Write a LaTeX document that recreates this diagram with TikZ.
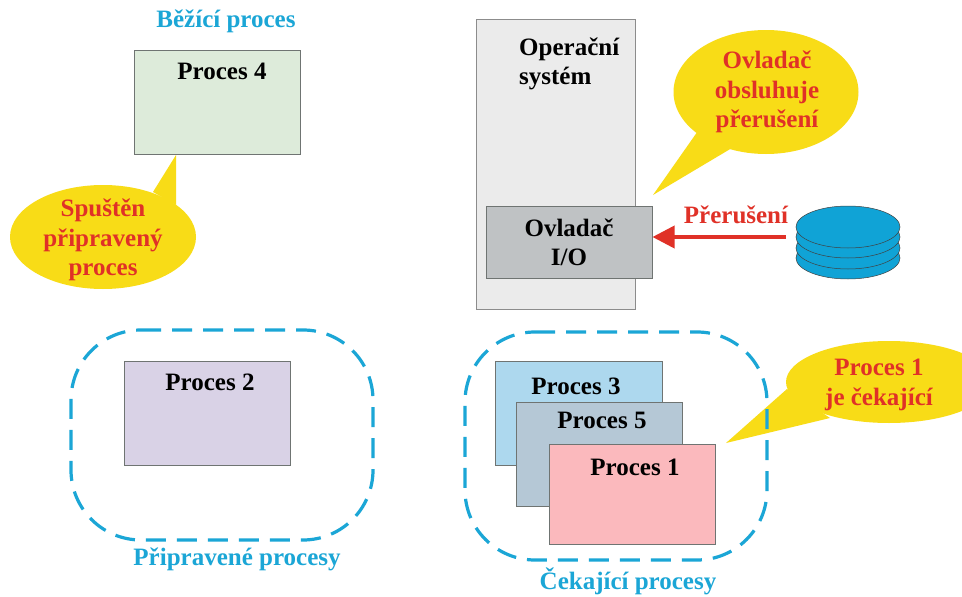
\documentclass[tikz,border=0pt]{standalone}
\usepackage{fontspec}
\setmainfont{Liberation Serif}
\usetikzlibrary{arrows.meta}
\definecolor{capblue}{HTML}{1BA6D6}
\definecolor{dashblue}{HTML}{1BA6D6}
\definecolor{bubble}{HTML}{F8DC17}
\definecolor{redtxt}{HTML}{E03127}
\definecolor{diskblue}{HTML}{10A3D6}
\definecolor{edgegray}{HTML}{6F7472}
\definecolor{iogray}{HTML}{BFC2C4}
\tikzset{
  x=1pt,y=-1pt,
  lab/.style={font=\fontsize{25}{29.3}\selectfont\bfseries,align=center,inner sep=0pt},
  blk/.style={lab,text=black},
  rd/.style={lab,text=redtxt},
  captxt/.style={lab,text=capblue},
  pbox/.style={draw=edgegray,line width=0.7pt},
  bub/.style={fill=bubble,draw=none},
  grp/.style={draw=dashblue,line width=3.2pt,dash pattern=on 20pt off 11pt},
  diskp/.style={fill=diskblue,draw=black!75,line width=0.5pt},
}
\begin{document}
\begin{tikzpicture}
\useasboundingbox[fill=white] (0,0) rectangle (962,597);
% operating system
\draw[pbox,fill=black!8,draw=black!45] (476,19) rectangle (635,309);
\node[blk,align=left,anchor=west] (os) at (519,64) {Operační\\systém};
\draw[pbox,fill=iogray] (486,206) rectangle (652,278);
\coordinate (ioEdge) at (652.5,237);
\node[blk] (io) at (569,242) {Ovladač\\I/O};
% running
\node[captxt] (run) at (226,21) {Běžící proces};
\draw[pbox,fill={rgb,255:red,221;green,235;blue,218}] (134,50) rectangle (300,154);
\node[blk] (p4) at (222,71) {Proces 4};
% callout running
\path[bub] (103,237) ellipse [x radius=93,y radius=52];
\path[bub] (153,192) -- (176,155) -- (176,205) -- cycle;
\node[rd] (c1) at (103,240) {Spuštěn\\připravený\\proces};
% callout driver
\path[bub] (766,92) ellipse [x radius=92.5,y radius=62];
\path[bub] (700,128) -- (653,195) -- (742,142) -- cycle;
\node[rd] (c2) at (767,92) {Ovladač\\obsluhuje\\přerušení};
% interrupt
\node[rd] (irq) at (736,215) {Přerušení};
\coordinate (irqStart) at (786,237);
\draw[redtxt,line width=3.6pt,-{Triangle[length=22pt,width=22pt]}] (irqStart) -- (ioEdge);
% disk
\foreach \y in {258,248,237,227}{
  \draw[diskp] (848,\y) ellipse [x radius=52,y radius=21];
}
% ready
\draw[pbox,fill={rgb,255:red,217;green,210;blue,230}] (124,361) rectangle (290,465);
\node[blk] (p2) at (210,382) {Proces 2};
\draw[grp] (141,330) -- (303,330) arc[start angle=-90,end angle=0,radius=70] -- (373,470) arc[start angle=0,end angle=90,radius=70] -- (141,540) arc[start angle=90,end angle=180,radius=70] -- (71,400) arc[start angle=180,end angle=270,radius=70] -- cycle;
\node[captxt] (ready) at (237,559) {Připravené procesy};
% waiting callout
\begin{scope}
\clip (0,0) rectangle (962,597);
\path[bub] (889,382) ellipse [x radius=103,y radius=41];
\end{scope}
\path[bub] (787,389) -- (726,443) -- (830,418) -- cycle;
\node[rd] (c3) at (879,385) {Proces 1\\je čekající};
% waiting
\draw[pbox,fill={rgb,255:red,173;green,216;blue,238}] (495,361) rectangle (662,465);
\node[blk] (p3) at (576,386) {Proces 3};
\draw[pbox,fill={rgb,255:red,181;green,200;blue,214}] (516,402) rectangle (682,506);
\node[blk] (p5) at (602,420) {Proces 5};
\draw[pbox,fill={rgb,255:red,251;green,185;blue,189}] (549,444) rectangle (715,544);
\node[blk] (p1) at (635,467) {Proces 1};
\draw[grp] (535,332) -- (697,332) arc[start angle=-90,end angle=0,radius=70] -- (767,490) arc[start angle=0,end angle=90,radius=70] -- (535,560) arc[start angle=90,end angle=180,radius=70] -- (465,402) arc[start angle=180,end angle=270,radius=70] -- cycle;
\node[captxt] (wait) at (628,581) {Čekající procesy};
\end{tikzpicture}
\end{document}
